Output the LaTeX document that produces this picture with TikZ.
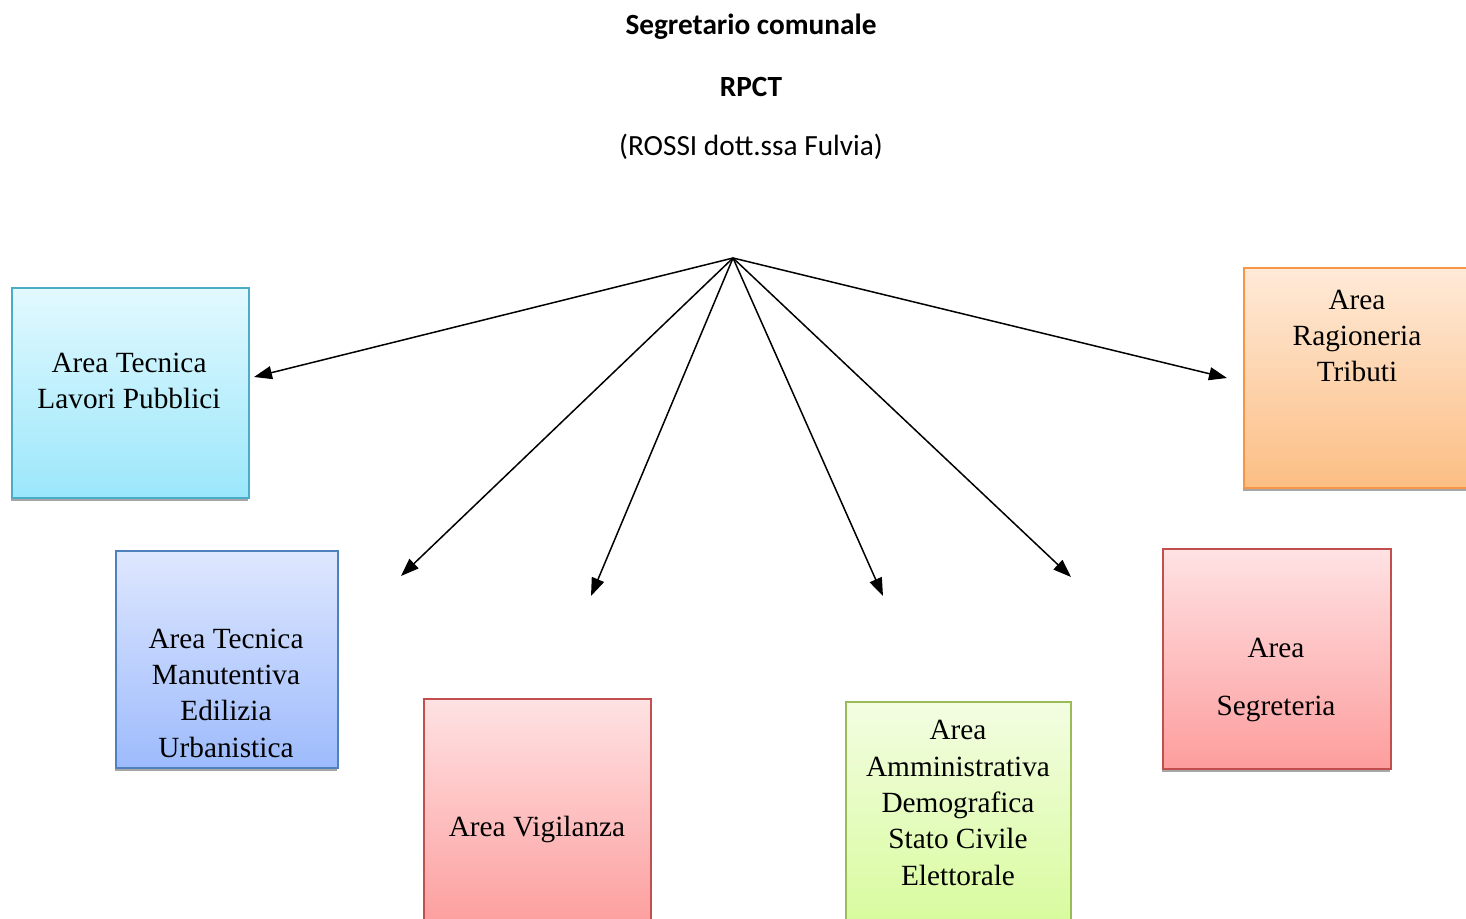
\documentclass[tikz,border=0pt]{standalone}
\usepackage{fontspec}
\setmainfont{Liberation Serif}
\newfontfamily\titlefont{Carlito}
\usetikzlibrary{arrows.meta}
\definecolor{cyanE}{HTML}{4BACC6}
\definecolor{blueE}{HTML}{4F81BD}
\definecolor{redE}{HTML}{C0504D}
\definecolor{greenE}{HTML}{9BBB59}
\definecolor{orangeE}{HTML}{F79646}
\tikzset{
  box/.style={rectangle, inner sep=0pt, line width=1.5pt, anchor=north west},
  shadowbox/.style={rectangle, inner sep=0pt, fill=black!35, draw=none, anchor=north west},
  cyanbox/.style={box, draw=cyanE, top color={rgb,255:red,226;green,249;blue,254}, bottom color={rgb,255:red,155;green,231;blue,251}},
  bluebox/.style={box, draw=blueE, top color={rgb,255:red,222;green,231;blue,254}, bottom color={rgb,255:red,157;green,187;blue,252}},
  redbox/.style={box, draw=redE, top color={rgb,255:red,254;green,226;blue,227}, bottom color={rgb,255:red,253;green,157;blue,157}},
  greenbox/.style={box, draw=greenE, top color={rgb,255:red,243;green,253;blue,226}, bottom color={rgb,255:red,215;green,251;blue,155}},
  orangebox/.style={box, draw=orangeE, top color={rgb,255:red,254;green,234;blue,216}, bottom color={rgb,255:red,252;green,190;blue,132}},
  lbl/.style={align=center, inner sep=0pt, font=\fontsize{29.3}{36.3}\selectfont},
  ttl/.style={inner sep=0pt, font=\titlefont\fontsize{29.3}{34}\selectfont},
  arr/.style={line width=1.5pt, -{Triangle[length=18pt,width=13pt]}}
}
\begin{document}
\begin{tikzpicture}[x=1pt,y=-1pt]
\useasboundingbox (0,0) rectangle (1466,918);
\clip (0,0) rectangle (1466,918);
% titles
\node[ttl] (t1) at (751,27) {\bfseries Segretario comunale};
\node[ttl] (t2) at (751,87) {\bfseries RPCT};
\node[ttl] (t3) at (751,147) {(ROSSI dott.ssa Fulvia)};
% shadows
\node[shadowbox, minimum width=237pt, minimum height=210pt] (s1) at (11,291) {};
\node[shadowbox, minimum width=222pt, minimum height=217pt] (s2) at (115,554) {};
\node[shadowbox, minimum width=227pt, minimum height=230pt] (s3) at (423,702) {};
\node[shadowbox, minimum width=225pt, minimum height=230pt] (s4) at (845,705) {};
\node[shadowbox, minimum width=228pt, minimum height=220pt] (s5) at (1162,552) {};
\node[shadowbox, minimum width=240pt, minimum height=220pt] (s6) at (1243,271) {};
% boxes
\node[cyanbox, minimum width=237pt, minimum height=210pt] (b1) at (11,287) {};
\node[bluebox, minimum width=222pt, minimum height=217pt] (b2) at (115,550) {};
\node[redbox, minimum width=227pt, minimum height=230pt] (b3) at (423,698) {};
\node[greenbox, minimum width=225pt, minimum height=230pt] (b4) at (845,701) {};
\node[redbox, minimum width=228pt, minimum height=220pt] (b5) at (1162,548) {};
\node[orangebox, minimum width=240pt, minimum height=220pt] (b6) at (1243,267) {};
% labels
\node[lbl] (l1) at (129,381) {Area Tecnica\\Lavori Pubblici};
\node[lbl] (l2) at (226,693) {Area Tecnica\\Manutentiva\\Edilizia\\Urbanistica};
\node[lbl] (l3) at (537,829) {Area Vigilanza};
\node[lbl] (l4) at (958,803) {Area\\Amministrativa\\Demografica\\Stato Civile\\Elettorale};
\node[lbl] (l5) at (1276,680) {Area\\[21.7pt]Segreteria};
\node[lbl] (l6) at (1357,336) {Area\\Ragioneria\\Tributi};
% connectors
\coordinate (hub) at (733,258);
\coordinate (e1) at (254,377);
\coordinate (e2) at (401,576);
\coordinate (e3) at (591,596);
\coordinate (e4) at (883,596);
\coordinate (e5) at (1071,577);
\coordinate (e6) at (1227,378);
\foreach \e in {e1,e2,e3,e4,e5,e6} \draw[arr] (hub) -- (\e);
\end{tikzpicture}
\end{document}
